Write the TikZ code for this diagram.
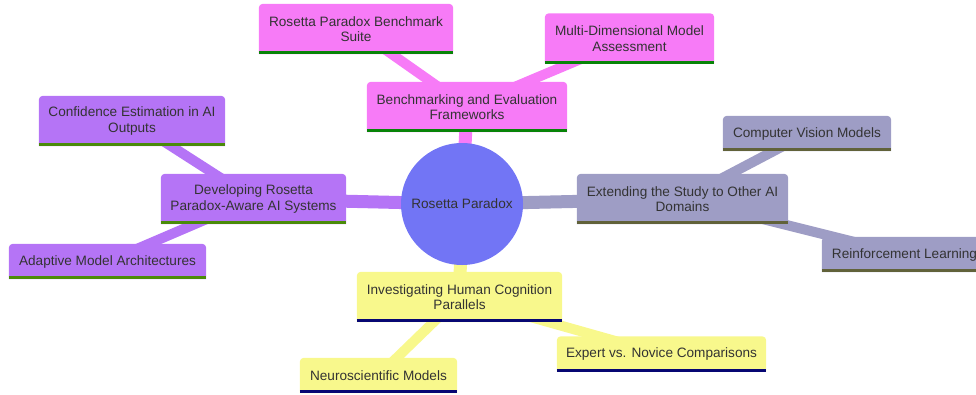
\documentclass[tikz,border=0pt]{standalone}
\usepackage{fontspec}
\setmainfont{Liberation Sans}
\pgfdeclarelayer{bg}
\pgfsetlayers{bg,main}
\definecolor{txt}{HTML}{333333}
\definecolor{rootc}{HTML}{7275F5}
\definecolor{magc}{HTML}{F77BF7}
\definecolor{magl}{HTML}{088408}
\definecolor{purc}{HTML}{B574F6}
\definecolor{purl}{HTML}{4A8B09}
\definecolor{grac}{HTML}{9E9DC5}
\definecolor{gral}{HTML}{61623A}
\definecolor{yelc}{HTML}{F8F88C}
\definecolor{yell}{HTML}{070773}
\newcommand\mmbox[3]{%
  \fill[#2, rounded corners=4pt] (#1.south west) -- (#1.north west) -- (#1.north east) [sharp corners] -- (#1.south east) -- cycle;
  \draw[#3, line width=3pt] ([yshift=1.5pt]#1.south west) -- ([yshift=1.5pt]#1.south east);}
\tikzset{
  mm/.style={font=\fontsize{13.6}{15.5}\selectfont, text=txt, align=center, inner sep=0pt, draw=none, fill=none},
  tall/.style={mm, minimum height=50pt},
  short/.style={mm, minimum height=35pt},
  rootedge/.style={line width=13pt},
  childedge/.style={line width=10pt},
}
\begin{document}
\begin{tikzpicture}[x=1pt,y=-1pt]
\useasboundingbox (0,0) rectangle (976,394);
% nodes (text)
\node[mm, circle, minimum size=122pt] (root) at (462,204) {Rosetta Paradox};
\node[tall, minimum width=200pt] (bench) at (467,107) {Benchmarking and Evaluation\\Frameworks};
\node[tall, minimum width=194pt] (suite) at (356,29) {Rosetta Paradox Benchmark\\Suite};
\node[tall, minimum width=169pt] (multi) at (629.5,38.5) {Multi-Dimensional Model\\Assessment};
\node[tall, minimum width=185pt] (dev) at (253.5,199) {Developing Rosetta\\Paradox-Aware AI Systems};
\node[tall, minimum width=186pt] (conf) at (132,121) {Confidence Estimation in AI\\Outputs};
\node[short, minimum width=197pt] (adapt) at (107.5,261.5) {Adaptive Model Architectures};
\node[tall, minimum width=211pt] (ext) at (682.5,199) {Extending the Study to Other AI\\Domains};
\node[short, minimum width=168pt] (cv) at (807,133.5) {Computer Vision Models};
\node[short, minimum width=165pt] (rl) at (904.5,254.5) {Reinforcement Learning};
\node[tall, minimum width=205pt] (inv) at (459.5,297) {Investigating Human Cognition\\Parallels};
\node[short, minimum width=157pt] (neuro) at (378.5,375.5) {Neuroscientific Models};
\node[short, minimum width=209pt] (expert) at (661.5,354) {Expert vs. Novice Comparisons};
\begin{pgfonlayer}{bg}
% edges
\draw[rootedge, magc] (root.center) -- (bench.center);
\draw[rootedge, purc] (root.center) -- (dev.center);
\draw[rootedge, grac] (root.center) -- (ext.center);
\draw[rootedge, yelc] (root.center) -- (inv.center);
\draw[childedge, magc] (bench.center) -- (suite.center);
\draw[childedge, magc] (bench.center) -- (multi.center);
\draw[childedge, purc] (dev.center) -- (conf.center);
\draw[childedge, purc] (dev.center) -- (adapt.center);
\draw[childedge, grac] (ext.center) -- (cv.center);
\draw[childedge, grac] (ext.center) -- (rl.center);
\draw[childedge, yelc] (inv.center) -- (neuro.center);
\draw[childedge, yelc] (inv.center) -- (expert.center);
% boxes
\fill[rootc] (root.center) circle[radius=61pt];
\mmbox{bench}{magc}{magl}
\mmbox{suite}{magc}{magl}
\mmbox{multi}{magc}{magl}
\mmbox{dev}{purc}{purl}
\mmbox{conf}{purc}{purl}
\mmbox{adapt}{purc}{purl}
\mmbox{ext}{grac}{gral}
\mmbox{cv}{grac}{gral}
\mmbox{rl}{grac}{gral}
\mmbox{inv}{yelc}{yell}
\mmbox{neuro}{yelc}{yell}
\mmbox{expert}{yelc}{yell}
\end{pgfonlayer}
\end{tikzpicture}
\end{document}
